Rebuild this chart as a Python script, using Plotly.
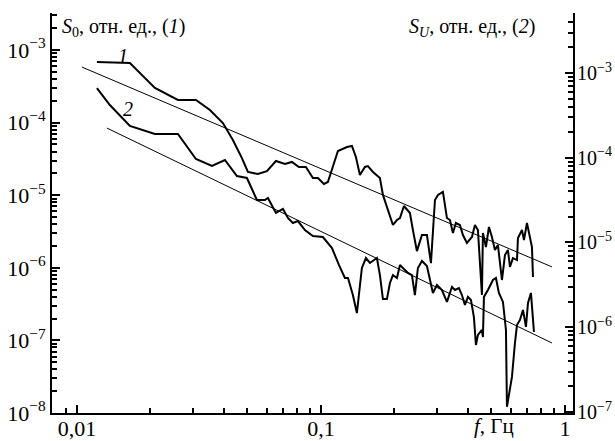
import math
import plotly.graph_objects as go

# ---- data ----
f1 = [0.01208, 0.01649, 0.02088, 0.02594, 0.03075, 0.03509, 0.03966, 0.04358, 0.04746, 0.05022,
      0.05518, 0.06006, 0.06541, 0.07121, 0.07605, 0.08124, 0.08679, 0.09273, 0.09721, 0.1029,
      0.1068, 0.1120, 0.1174, 0.1279, 0.1340, 0.1391, 0.1445, 0.1515, 0.1558, 0.1634,
      0.1745, 0.1795, 0.1882, 0.1973, 0.2049, 0.2108, 0.2189, 0.2316, 0.2382, 0.2474,
      0.2594, 0.2719, 0.2824, 0.2933, 0.3017, 0.3162, 0.3284, 0.3378, 0.3475, 0.3574,
      0.3712, 0.3819, 0.3966, 0.4158, 0.4277, 0.4399, 0.4569, 0.4612, 0.4745, 0.4881,
      0.5021, 0.5165, 0.5313, 0.5519, 0.5677, 0.5840, 0.5951, 0.6122, 0.6359, 0.6419,
      0.6666, 0.6793, 0.6988, 0.7121, 0.7325, 0.7395]
s0 = [6.84e-4, 6.62e-4, 3.00e-4, 2.05e-4, 2.05e-4, 1.49e-4, 9.87e-5, 5.76e-5, 3.25e-5, 2.09e-5,
      1.96e-5, 2.15e-5, 2.96e-5, 2.69e-5, 2.87e-5, 2.45e-5, 2.45e-5, 1.73e-5, 1.73e-5, 1.43e-5,
      1.52e-5, 2.45e-5, 4.06e-5, 4.61e-5, 4.76e-5, 3.36e-5, 1.90e-5, 2.45e-5, 2.52e-5, 2.09e-5,
      1.73e-5, 1.01e-5, 6.25e-6, 3.89e-6, 4.55e-6, 4.85e-6, 7.10e-6, 5.69e-6, 3.32e-6, 1.70e-6,
      2.83e-6, 2.83e-6, 1.16e-6, 8.59e-6, 1.01e-5, 1.11e-5, 4.85e-6, 4.55e-6, 3.02e-6, 4.14e-6,
      3.89e-6, 2.83e-6, 2.20e-6, 2.66e-6, 3.89e-6, 3.32e-6, 4.22e-7, 3.02e-6, 1.93e-6, 3.65e-6,
      2.66e-6, 1.76e-6, 2.06e-6, 6.79e-7, 1.50e-6, 1.76e-6, 1.03e-6, 1.36e-6, 1.28e-6, 2.57e-6,
      3.32e-6, 2.41e-6, 4.14e-6, 3.02e-6, 1.93e-6, 7.47e-7]

f2 = [0.01208, 0.01365, 0.01649, 0.02088, 0.02594, 0.03075, 0.03575, 0.04042, 0.04527, 0.04975,
      0.05467, 0.05896, 0.06065, 0.06541, 0.06988, 0.07324, 0.07677, 0.08048, 0.08598, 0.09273,
      0.1019, 0.1110, 0.1185, 0.1254, 0.1291, 0.1352, 0.1404, 0.1472, 0.1529, 0.1588,
      0.1696, 0.1745, 0.1795, 0.1864, 0.1918, 0.1973, 0.2049, 0.2108, 0.2210, 0.2273,
      0.2360, 0.2427, 0.2497, 0.2594, 0.2719, 0.2797, 0.2877, 0.2988, 0.3133, 0.3284,
      0.3443, 0.3541, 0.3677, 0.3783, 0.3892, 0.4004, 0.4119, 0.4236, 0.4317, 0.4399,
      0.4569, 0.4612, 0.4656, 0.4835, 0.5069, 0.5214, 0.5363, 0.5571, 0.5731, 0.5785,
      0.6065, 0.6239, 0.6359, 0.6541, 0.6730, 0.6922, 0.7055, 0.7256, 0.7395, 0.7464]
su = [6.65e-4, 4.19e-4, 2.37e-4, 1.91e-4, 1.91e-4, 9.67e-5, 7.99e-5, 9.41e-5, 6.09e-5, 5.77e-5,
      3.17e-5, 3.17e-5, 3.35e-5, 2.23e-5, 2.49e-5, 1.95e-5, 1.70e-5, 1.79e-5, 1.40e-5, 1.19e-5,
      1.16e-5, 8.61e-6, 5.43e-6, 3.81e-6, 3.81e-6, 2.40e-6, 1.47e-6, 5.00e-6, 6.56e-6, 5.73e-6,
      6.56e-6, 4.13e-6, 2.15e-6, 2.15e-6, 3.33e-6, 4.13e-6, 3.81e-6, 5.43e-6, 4.74e-6, 4.37e-6,
      4.13e-6, 2.40e-6, 5.00e-6, 6.05e-6, 5.28e-6, 3.61e-6, 2.54e-6, 3.15e-6, 2.75e-6, 1.99e-6,
      2.99e-6, 2.75e-6, 2.90e-6, 2.40e-6, 1.83e-6, 2.28e-6, 2.10e-6, 1.32e-6, 6.17e-7, 8.10e-7,
      9.28e-7, 7.67e-7, 2.28e-6, 2.75e-6, 3.61e-6, 3.81e-6, 2.54e-6, 1.99e-6, 9.28e-7, 1.15e-7,
      2.59e-7, 6.52e-7, 1.06e-6, 1.22e-6, 1.60e-6, 1.01e-6, 1.93e-6, 2.54e-6, 1.32e-6, 8.79e-7]

# power-law fit lines (end points)
fit1_f = [0.01048, 0.8845]
fit1_s = [5.83e-4, 1.03e-6]
fit2_f = [0.01327, 0.8845]
fit2_s = [2.24e-4, 6.52e-7]

x_ticks = [0.01, 0.1, 1]
x_ticktext = ["0,01", "0,1", "1"]
y1_ticks = [1e-3, 1e-4, 1e-5, 1e-6, 1e-7, 1e-8]
y2_ticks = [1e-3, 1e-4, 1e-5, 1e-6, 1e-7]


def pow_label(v):
    e = int(round(math.log10(v)))
    return "10<sup>\u2212%d</sup>" % (-e)


def minor_vals(lo, hi):
    out = []
    for e in range(lo, hi):
        for m in range(2, 10):
            out.append(m * 10.0 ** e)
    return out


FONT = "Liberation Serif, Times New Roman, serif"
TF = 22
fig = go.Figure()

fig.add_trace(go.Scatter(x=f1, y=s0, mode="lines", line=dict(color="black", width=2),
                         yaxis="y", showlegend=False))
fig.add_trace(go.Scatter(x=fit1_f, y=fit1_s, mode="lines", line=dict(color="black", width=1),
                         yaxis="y", showlegend=False))
fig.add_trace(go.Scatter(x=f2, y=su, mode="lines", line=dict(color="black", width=2),
                         yaxis="y2", showlegend=False))
fig.add_trace(go.Scatter(x=fit2_f, y=fit2_s, mode="lines", line=dict(color="black", width=1),
                         yaxis="y2", showlegend=False))

fig.update_layout(
    width=615, height=441,
    margin=dict(l=52, r=42, t=13, b=28, autoexpand=False),
    paper_bgcolor="white", plot_bgcolor="white",
    font=dict(family=FONT, size=TF, color="black"),
    xaxis=dict(type="log", range=[-2.102, 0.033], showgrid=False, zeroline=False, automargin=False,
               showline=True, linecolor="black", linewidth=2,
               tickmode="array", tickvals=x_ticks, ticktext=x_ticktext,
               ticks="inside", ticklen=8, tickwidth=2, tickcolor="black",
               ticklabelstandoff=-5,
               minor=dict(tickmode="array", tickvals=[0.009] + minor_vals(-2, 0),
                          ticks="inside", ticklen=5, tickwidth=2, tickcolor="black",
                          showgrid=False),
               tickfont=dict(family=FONT, size=TF)),
    yaxis=dict(type="log", range=[-8, -2.49], showgrid=False, zeroline=False, automargin=False,
               showline=True, linecolor="black", linewidth=2,
               tickmode="array", tickvals=y1_ticks, ticktext=[pow_label(v) for v in y1_ticks],
               ticks="inside", ticklen=8, tickwidth=2, tickcolor="black",
               minor=dict(tickmode="array", tickvals=minor_vals(-8, -2),
                          ticks="inside", ticklen=5, tickwidth=1.5, tickcolor="black",
                          showgrid=False),
               tickfont=dict(family=FONT, size=TF)),
    yaxis2=dict(type="log", range=[-7.012, -2.292], overlaying="y", side="right", anchor="x",
                showgrid=False, zeroline=False, automargin=False,
                showline=True, linecolor="black", linewidth=2,
                tickmode="array", tickvals=y2_ticks, ticktext=[pow_label(v) for v in y2_ticks],
                ticks="inside", ticklen=8, tickwidth=2, tickcolor="black",
                ticklabelstandoff=-2,
                minor=dict(tickmode="array", tickvals=minor_vals(-7, -2),
                           ticks="inside", ticklen=5, tickwidth=1.5, tickcolor="black",
                           showgrid=False),
                tickfont=dict(family=FONT, size=20)),
)

ann_font = dict(family=FONT, size=20, color="black")
fig.add_annotation(xref="paper", yref="paper", x=0.015, y=0.9625, xanchor="left", yanchor="middle",
                   text="<i>S</i><sub>0</sub>, отн. ед., (<i>1</i>)", showarrow=False, font=ann_font)
fig.add_annotation(xref="paper", yref="paper", x=0.931, y=0.9625, xanchor="right", yanchor="middle",
                   text="<i>S<sub>U</sub></i>, отн. ед., (<i>2</i>)", showarrow=False, font=ann_font)
fig.add_annotation(xref="paper", yref="paper", x=0.136, y=0.8925, xanchor="center", yanchor="middle",
                   text="<i>1</i>", showarrow=False, font=ann_font)
fig.add_annotation(xref="paper", yref="paper", x=0.146, y=0.76, xanchor="center", yanchor="middle",
                   text="<i>2</i>", showarrow=False, font=ann_font)
fig.add_annotation(xref="paper", yref="paper", x=0.848, y=-0.032, xanchor="center", yanchor="middle",
                   text="<i>f</i>, Гц", showarrow=False, font=dict(family=FONT, size=21, color="black"))

fig.write_html("out.html", config={"displayModeBar": False},
               post_script="document.body.style.margin='0';document.body.style.overflow='hidden';")
